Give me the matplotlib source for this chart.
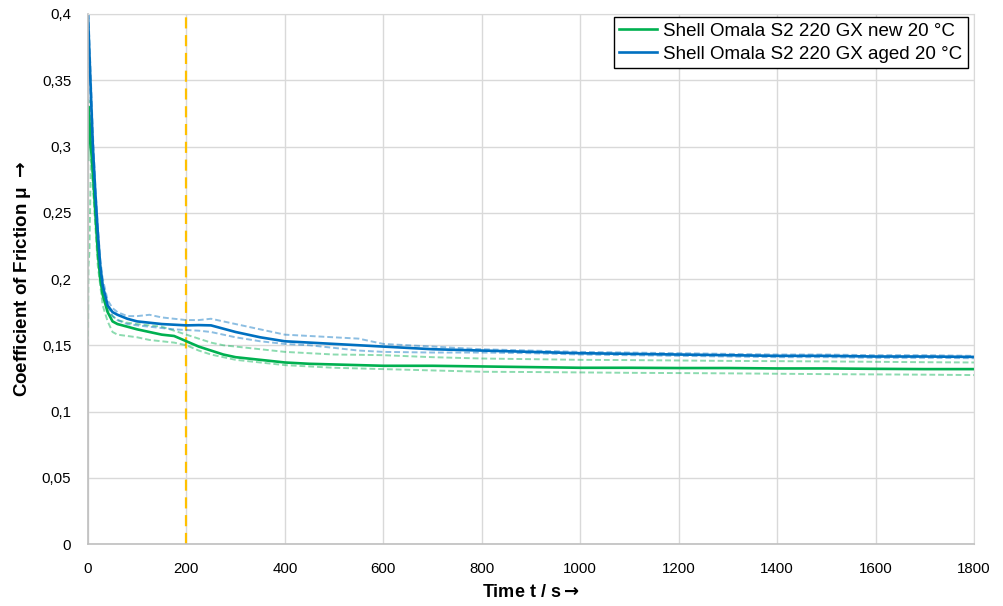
#!/usr/bin/env python3
"""Coefficient of friction over time, Shell Omala S2 220 GX new vs aged at 20 °C."""

import matplotlib
matplotlib.use("Agg")
import matplotlib.pyplot as plt

# ── data ──
time_s = [0, 1, 3, 6, 10, 15, 20, 25, 30, 40, 50, 60, 80, 100, 125, 150, 175,
          200, 225, 250, 275, 300, 350, 400, 450, 500, 550, 600, 700, 800, 900,
          1000, 1100, 1200, 1300, 1400, 1500, 1600, 1700, 1800]

new_mean = [0.29, 0.33, 0.32, 0.30, 0.28, 0.25, 0.22, 0.20, 0.188, 0.175, 0.168,
            0.166, 0.164, 0.162, 0.160, 0.158, 0.157, 0.153, 0.149, 0.146, 0.143,
            0.141, 0.139, 0.137, 0.136, 0.1355, 0.135, 0.1345, 0.1345, 0.134,
            0.1335, 0.133, 0.133, 0.1328, 0.1328, 0.1325, 0.1325, 0.1322, 0.132, 0.132]
new_upper = [0.30, 0.335, 0.33, 0.31, 0.29, 0.26, 0.23, 0.21, 0.195, 0.180, 0.172,
             0.169, 0.167, 0.166, 0.165, 0.164, 0.161, 0.158, 0.155, 0.152, 0.150,
             0.149, 0.147, 0.145, 0.144, 0.143, 0.1428, 0.1425, 0.141, 0.140,
             0.1395, 0.139, 0.1388, 0.1385, 0.1382, 0.138, 0.1378, 0.1375, 0.1372, 0.137]
new_lower = [0.15, 0.21, 0.22, 0.29, 0.27, 0.24, 0.21, 0.195, 0.18, 0.168, 0.160,
             0.158, 0.157, 0.156, 0.154, 0.153, 0.152, 0.150, 0.146, 0.143, 0.141,
             0.139, 0.137, 0.135, 0.134, 0.133, 0.1325, 0.132, 0.131, 0.130,
             0.1298, 0.1295, 0.1292, 0.129, 0.1288, 0.1285, 0.1282, 0.128, 0.1278, 0.1275]

aged_mean = [0.40, 0.39, 0.37, 0.34, 0.30, 0.265, 0.235, 0.21, 0.195, 0.180, 0.175,
             0.173, 0.170, 0.168, 0.167, 0.166, 0.1655, 0.165, 0.1652, 0.165, 0.1625,
             0.160, 0.156, 0.153, 0.152, 0.151, 0.150, 0.149, 0.147, 0.146, 0.145,
             0.144, 0.1435, 0.143, 0.1425, 0.142, 0.142, 0.1415, 0.1415, 0.1412]
aged_upper = [0.40, 0.40, 0.38, 0.35, 0.31, 0.27, 0.24, 0.215, 0.20, 0.184, 0.178,
              0.175, 0.172, 0.172, 0.173, 0.171, 0.170, 0.169, 0.169, 0.170, 0.168,
              0.166, 0.162, 0.158, 0.157, 0.156, 0.155, 0.151, 0.149, 0.147, 0.146,
              0.145, 0.1445, 0.144, 0.1435, 0.143, 0.143, 0.1425, 0.1425, 0.142]
aged_lower = [0.39, 0.38, 0.36, 0.33, 0.29, 0.26, 0.23, 0.205, 0.19, 0.176, 0.172,
              0.169, 0.166, 0.165, 0.164, 0.163, 0.162, 0.1615, 0.161, 0.160, 0.158,
              0.156, 0.153, 0.151, 0.150, 0.148, 0.146, 0.145, 0.1445, 0.1445, 0.144,
              0.143, 0.1425, 0.142, 0.1415, 0.141, 0.141, 0.1405, 0.1405, 0.1402]

marker_time = 200

x_ticks = [0, 200, 400, 600, 800, 1000, 1200, 1400, 1600, 1800]
y_ticks = [0, 0.05, 0.1, 0.15, 0.2, 0.25, 0.3, 0.35, 0.4]
y_tick_labels = ["0", "0,05", "0,1", "0,15", "0,2", "0,25", "0,3", "0,35", "0,4"]

GREEN = "#00B050"
BLUE = "#0070C0"
ORANGE = "#FFC000"
GRID = "#D9D9D9"
BAND = (0, (3, 1.5))

plt.rcParams["font.family"] = ["Liberation Sans", "DejaVu Sans"]
plt.rcParams["mathtext.fontset"] = "dejavusans"

fig = plt.figure(figsize=(10.04, 6.06), dpi=100)
ax = fig.add_axes([0.0876, 0.1023, 0.8825, 0.8746])

# bands first, then the means on top
ax.plot(time_s, new_upper, color=GREEN, alpha=0.45, lw=1.4, ls=BAND)
ax.plot(time_s, new_lower, color=GREEN, alpha=0.45, lw=1.4, ls=BAND)
ax.plot(time_s, aged_upper, color=BLUE, alpha=0.45, lw=1.4, ls=BAND)
ax.plot(time_s, aged_lower, color=BLUE, alpha=0.45, lw=1.4, ls=BAND)
ax.plot(time_s, new_mean, color=GREEN, lw=1.9, label="Shell Omala S2 220 GX new 20 °C")
ax.plot(time_s, aged_mean, color=BLUE, lw=1.9, label="Shell Omala S2 220 GX aged 20 °C")

ax.axvline(marker_time, color=ORANGE, lw=1.6, ls=(0, (5, 3)), zorder=1)

ax.set_xlim(0, 1800)
ax.set_ylim(0, 0.4)
ax.set_xticks(x_ticks)
ax.set_yticks(y_ticks)
ax.set_yticklabels(y_tick_labels)
ax.tick_params(length=0, colors="#000000", labelsize=10.8)
ax.tick_params(axis="y", pad=12)
ax.tick_params(axis="x", pad=13)

ax.grid(True, color=GRID, lw=1.0, zorder=0)
ax.set_axisbelow(True)
for side in ("top", "right"):
    ax.spines[side].set_color(GRID)
for side in ("left", "bottom"):
    ax.spines[side].set_color("#BFBFBF")
    ax.spines[side].set_linewidth(1.2)

ax.set_xlabel(r"Time t / s$\mathbf{\rightarrow}$", fontsize=13, fontweight="bold", labelpad=6)
ax.set_ylabel("Coefficient of Friction \u03bc " + r"$\mathbf{\rightarrow}$", fontsize=13.5,
              fontweight="bold", labelpad=6)

leg = ax.legend(loc="upper right", bbox_to_anchor=(0.9932, 0.9943), fontsize=13.5,
                frameon=True, fancybox=False, borderaxespad=0, handlelength=2.0,
                handletextpad=0.35, borderpad=0.3, labelspacing=0.3)
leg.get_frame().set_edgecolor("#000000")
leg.get_frame().set_linewidth(1.0)
leg.get_frame().set_alpha(1.0)

fig.savefig("out.png", dpi=100)
